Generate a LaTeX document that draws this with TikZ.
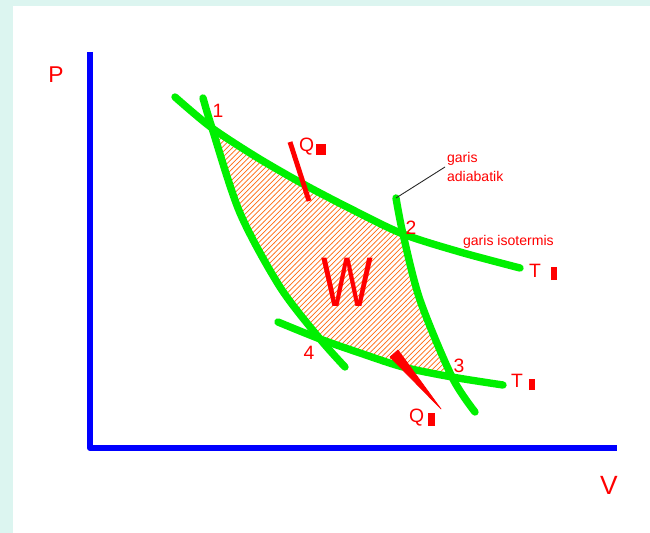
\documentclass[tikz,border=0pt]{standalone}
\usepackage{fontspec}
\setmainfont{Liberation Sans}
\usetikzlibrary{patterns}
\definecolor{pvgreen}{HTML}{00F000}
\definecolor{pvblue}{HTML}{0000FF}
\definecolor{pvred}{HTML}{FF0000}
\definecolor{pvhatch}{HTML}{FF6A10}
\definecolor{pvframe}{HTML}{DCF5F0}
\newcommand{\subbox}[2]{\raisebox{-0.6mm}{\rule{#1}{#2}}}
\tikzset{
  gline/.style={draw=pvgreen, line width=4.2pt, line cap=round, line join=round},
  axis/.style={draw=pvblue, line width=3.4pt, line join=round},
  lbl/.style={text=pvred, inner sep=1pt, font=\fontsize{11}{13}\selectfont},
  small/.style={text=pvred, inner sep=1pt, font=\fontsize{8}{11}\selectfont, align=left},
  heat/.style={fill=pvred, draw=pvred, line join=round},
  leader/.style={draw=black!85, line width=0.5pt},
}

\begin{document}
\begin{tikzpicture}[x=0.02cm, y=-0.02cm]
    \useasboundingbox (0,0) rectangle (650,533);
    % frame
    \fill[pvframe] (0,0) rectangle (650,533);
    \fill[white] (13,6) rectangle (650,533);
    % corners of the cycle
    \coordinate (c1) at (212,128);
    \coordinate (c2) at (403,234);
    \coordinate (c3) at (452,377);
    \coordinate (c4) at (320,339);
    % work area
    \fill[pattern=north east lines, pattern color=pvhatch]
      plot[smooth] coordinates {(c1) (258,158) (305,185) (353,210) (c2)}
      -- plot[smooth] coordinates {(c2) (420,300) (c3)}
      -- plot[smooth] coordinates {(c3) (403,367) (360,353) (c4)}
      -- plot[smooth] coordinates {(c4) (280,287) (240,213) (c1)} -- cycle;
    % axes
    \coordinate (o) at (90,448);
    \draw[axis] (90,52) -- (o) -- (617,448);
    \node[lbl, font=\fontsize{13}{15}\selectfont] (pl) at (56,75) {P};
    \node[lbl, font=\fontsize{15}{17}\selectfont] (vl) at (609,485) {V};
    % isotherms
    \draw[gline] plot[smooth] coordinates {(175,97) (c1) (258,158) (305,185) (353,210) (c2) (460,252) (520,268)};
    \draw[gline] plot[smooth] coordinates {(278,322) (c4) (360,353) (403,367) (c3) (503,385)};
    % adiabats
    \draw[gline] plot[smooth] coordinates {(203,98) (c1) (240,213) (280,287) (c4) (345,367)};
    \draw[gline] plot[smooth] coordinates {(396,198) (c2) (420,300) (c3) (475,412)};
    % heat in and out
    \draw[pvred, line width=2.8pt] (290,142) -- (309,201);
    \fill[heat] (390,357) -- (398,350) -- (441,409) -- cycle;
    \node[lbl, anchor=west] (qh) at (297,147) {Q\hspace{0.4mm}\subbox{0.2cm}{0.22cm}};
    \node[lbl, anchor=west] (ql) at (407,418) {Q\hspace{0.8mm}\subbox{0.14cm}{0.26cm}};
    % corner numbers
    \node[lbl] (n1) at (218,111) {1};
    \node[lbl] (n2) at (411,228) {2};
    \node[lbl] (n3) at (459,366) {3};
    \node[lbl] (n4) at (309,353) {4};
    % temperatures
    \node[lbl, anchor=west] (th) at (527,272) {T\hspace{2mm}\subbox{0.12cm}{0.26cm}};
    \node[lbl, anchor=west] (tl) at (509,382) {T\hspace{1.2mm}\subbox{0.12cm}{0.22cm}};
    % work
    \node[lbl, font=\fontsize{40}{44}\selectfont, xscale=0.78] (w) at (347,282) {W};
    % line names
    \node[small, anchor=west] (adl) at (445,167) {garis\\adiabatik};
    \coordinate (atop) at (396,198);
    \draw[leader] (atop) -- (adl.west);
    \node[small, anchor=west] (isl) at (461,242) {garis isotermis};
\end{tikzpicture}
\end{document}
